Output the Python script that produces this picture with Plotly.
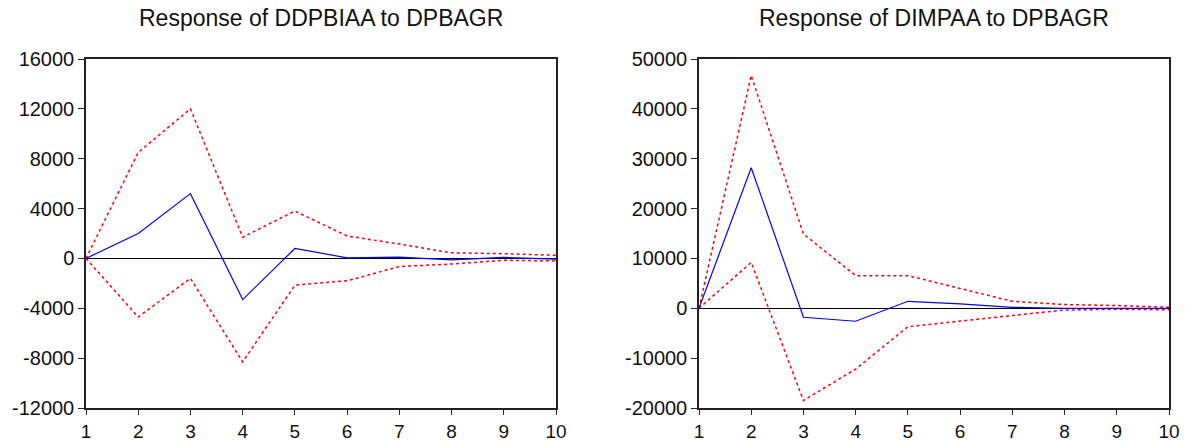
import plotly.graph_objects as go

periods = [1, 2, 3, 4, 5, 6, 7, 8, 9, 10]

# Left panel: Response of DDPBIAA to DPBAGR
left_resp = [0, 2000, 5200, -3300, 800, 50, 100, -120, 80, -50]
left_upper = [0, 8500, 12000, 1700, 3800, 1800, 1150, 450, 380, 250]
left_lower = [0, -4700, -1600, -8300, -2150, -1800, -650, -450, -150, -200]

# Right panel: Response of DIMPAA to DPBAGR
right_resp = [0, 28200, -1800, -2600, 1400, 900, 200, 0, 0, 0]
right_upper = [0, 46700, 14900, 6550, 6550, 3900, 1400, 750, 550, 200]
right_lower = [0, 9200, -18500, -12200, -3700, -2500, -1450, -350, -200, -300]

left_ticks = [-12000, -8000, -4000, 0, 4000, 8000, 12000, 16000]
right_ticks = [-20000, -10000, 0, 10000, 20000, 30000, 40000, 50000]
left_title = "Response of DDPBIAA to DPBAGR"
right_title = "Response of DIMPAA to DPBAGR"

FONT = "Liberation Sans, Arial, sans-serif"

fig = go.Figure()

def add_panel(xa, ya, resp, upper, lower):
    for band in (upper, lower):
        fig.add_trace(go.Scatter(x=periods, y=band, mode="lines", xaxis=xa, yaxis=ya,
                                 line=dict(color="#ff0000", width=1.5, dash="3px,3px"),
                                 showlegend=False, hoverinfo="skip"))
    fig.add_trace(go.Scatter(x=periods, y=resp, mode="lines", xaxis=xa, yaxis=ya,
                             line=dict(color="#0000ff", width=1.2),
                             showlegend=False))

add_panel("x", "y", left_resp, left_upper, left_lower)
add_panel("x2", "y2", right_resp, right_upper, right_lower)

def lab(v):
    return str(v).replace("\u2212", "-")

axis_common = dict(showgrid=False, showline=True, linecolor="#222", linewidth=1.5,
                   mirror=True, ticks="outside", tickcolor="#222", automargin=False)

yfont = dict(family=FONT, size=20, color="#111")
xfont = dict(family=FONT, size=19, color="#111")

y0, y1 = 1 - 408 / 441, 1 - 59 / 441

fig.update_layout(
    width=1188, height=441,
    margin=dict(l=0, r=0, t=0, b=0, pad=0),
    paper_bgcolor="white", plot_bgcolor="white",
    xaxis=dict(domain=[86 / 1188, 556 / 1188], range=[1, 10], tickvals=periods,
               ticktext=[str(p) for p in periods], anchor="y", zeroline=False,
               ticklen=5, tickfont=xfont, **axis_common),
    yaxis=dict(domain=[y0, y1], range=[-12000, 16000], tickvals=left_ticks,
               ticktext=[lab(t) for t in left_ticks], anchor="x", ticklen=6, tickfont=yfont,
               zeroline=True, zerolinecolor="black", zerolinewidth=1.2, **axis_common),
    xaxis2=dict(domain=[699 / 1188, 1169 / 1188], range=[1, 10], tickvals=periods,
                ticktext=[str(p) for p in periods], anchor="y2", zeroline=False,
                ticklen=5, tickfont=xfont, **axis_common),
    yaxis2=dict(domain=[y0, y1], range=[-20000, 50000], tickvals=right_ticks,
                ticktext=[lab(t) for t in right_ticks], anchor="x2", ticklen=6, tickfont=yfont,
                zeroline=True, zerolinecolor="black", zerolinewidth=1.2, **axis_common),
    annotations=[
        dict(text=left_title, x=(86 + 556) / 2 / 1188, y=1 - 18 / 441, xref="paper", yref="paper",
             showarrow=False, xanchor="center", yanchor="middle",
             font=dict(family=FONT, size=23, color="#111")),
        dict(text=right_title, x=(699 + 1169) / 2 / 1188, y=1 - 18 / 441, xref="paper", yref="paper",
             showarrow=False, xanchor="center", yanchor="middle",
             font=dict(family=FONT, size=23, color="#111")),
    ],
)

fig.write_html("out.html")
